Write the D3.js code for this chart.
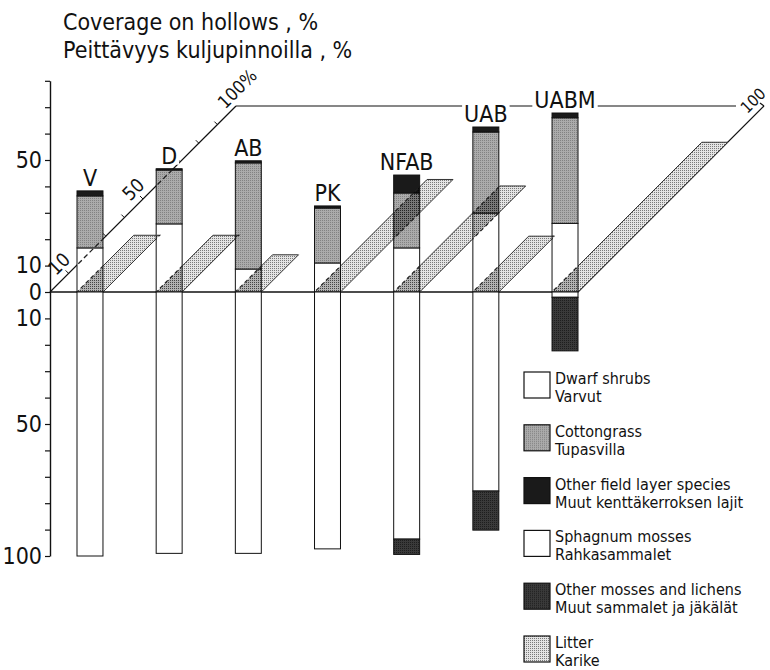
<!DOCTYPE html>
<html>
<head>
<meta charset="utf-8">
<script src="https://cdn.jsdelivr.net/npm/d3@7"></script>
<style>
body { margin: 0; background: #fff; }
text { font-family: "DejaVu Sans Condensed", "DejaVu Sans", sans-serif; font-stretch: condensed; fill: #111; }
</style>
</head>
<body>
<div id="chart"></div>
<script>
// values, % cover on hollows
var sites = ['V', 'D', 'AB', 'PK', 'NFAB', 'UAB', 'UABM'];
// field layer, drawn upwards
var dwarfShrubs = [16.7, 25.8, 8.7, 11, 16.7, 29.9, 26];
var cottongrass = [19.7, 20.4, 40.2, 20.8, 20.8, 30.7, 40];
var otherField  = [1.9, 0.5, 0.8, 0.8, 6.8, 1.9, 1.8];
// ground layer, drawn downwards
var sphagnum    = [100, 99, 99, 97.3, 93.6, 75.4, 2];
var otherMosses = [0, 0, 0, 0, 5.8, 14.8, 20.3];
// litter, drawn along the depth axis
var litter      = [30.5, 30.5, 20, 60.5, 57, 30, 80.5];

var upLabels = [0, 10, 50],
    downLabels = [10, 50, 100],
    depthLabels = [10, 50];

var legendItems = [
    ['Dwarf shrubs', 'Varvut', 'url(#pat-white)'],
    ['Cottongrass', 'Tupasvilla', 'url(#pat-cotton)'],
    ['Other field layer species', 'Muut kenttäkerroksen lajit', '#1a1a1a'],
    ['Sphagnum mosses', 'Rahkasammalet', 'url(#pat-white)'],
    ['Other mosses and lichens', 'Muut sammalet ja jäkälät', 'url(#pat-moss)'],
    ['Litter', 'Karike', 'url(#pat-litter)']
];

var width = 770, height = 670,
    axisX = 50;

var svg = d3.select('#chart').append('svg')
    .attr('width', width)
    .attr('height', height);

let x = d3.scaleBand().domain(sites).range([77, 578]).paddingInner(0.672).paddingOuter(0);
let y = d3.scaleLinear().domain([-100, 80]).range([556, 80.8]);
let depth = d3.scaleLinear().domain([0, 100]).range([0, 186]);
let bw = x.bandwidth(),
    y0 = y(0),
    xEnd = x(sites[sites.length - 1]) + bw;

// point on the floor: px along the baseline, d along the depth axis
function pt(px, d) { return [px + depth(d), y0 - depth(d)]; }

// stipple patterns
var defs = svg.append('defs');
function stipple(id, bg, dot) {
    var p = defs.append('pattern').attr('id', id)
	.attr('width', 2).attr('height', 2).attr('patternUnits', 'userSpaceOnUse');
    p.append('rect').attr('width', 2).attr('height', 2).attr('fill', bg);
    if (dot) p.append('rect').attr('width', 1).attr('height', 1).attr('fill', dot);
}
stipple('pat-white', '#fff', null);
stipple('pat-litter', '#e4e4e4', '#7a7a7a');
stipple('pat-cotton', '#ababab', '#828282');
stipple('pat-moss', '#3a3a3a', '#1e1e1e');
stipple('pat-over', 'rgba(0,0,0,0.3)', 'rgba(0,0,0,0.6)');

var data = sites.map((s, i) => {
    let a = dwarfShrubs[i], b = a + cottongrass[i], c = b + otherField[i];
    let e = sphagnum[i], f = e + otherMosses[i];
    return {
	site: s, litter: litter[i], top: c,
	up: [[0, a, 'url(#pat-white)'], [a, b, 'url(#pat-cotton)'], [b, c, '#1a1a1a']],
	down: [[0, e, 'url(#pat-white)'], [e, f, 'url(#pat-moss)']]
    };
});

function para(d) {
    let x1 = x(d.site), x2 = x1 + bw;
    return [[x1, y0], [x2, y0], pt(x2, d.litter), pt(x1, d.litter)];
}

// floor: baseline, depth axes and back edge
var floor = svg.append('g').attr('stroke', '#111').attr('fill', 'none');
floor.append('line').attr('x1', axisX).attr('x2', xEnd).attr('y1', y0).attr('y2', y0).attr('stroke-width', 1.4);
var diag = [pt(axisX, 0), pt(axisX, 100)];
floor.append('line').attr('x1', diag[0][0]).attr('y1', diag[0][1]).attr('x2', diag[1][0]).attr('y2', diag[1][1]).attr('stroke-width', 1.2);
floor.append('line')
    .attr('x1', pt(axisX, 100)[0]).attr('y1', pt(axisX, 100)[1])
    .attr('x2', pt(xEnd, 100)[0] - 28).attr('y2', pt(xEnd, 100)[1])
    .attr('stroke-width', 1.2);
floor.append('line')
    .attr('x1', pt(xEnd, 0)[0]).attr('y1', pt(xEnd, 0)[1])
    .attr('x2', pt(xEnd, 100)[0]).attr('y2', pt(xEnd, 100)[1])
    .attr('stroke-width', 1.2);
floor.append('line')
    .attr('x1', pt(xEnd, 100)[0]).attr('y1', pt(xEnd, 100)[1])
    .attr('x2', pt(xEnd, 100)[0] - 4).attr('y2', pt(xEnd, 100)[1] - 3)
    .attr('stroke-width', 1.2);
d3.range(10, 100, 10).forEach(function(t) {
    let p = pt(axisX, t);
    floor.append('line').attr('x1', p[0]).attr('y1', p[1])
	.attr('x2', p[0] - 3).attr('y2', p[1] - 3).attr('stroke-width', 1);
});

// litter parallelograms behind the bars
svg.append('g').selectAll('polygon').data(data).enter().append('polygon')
    .attr('points', (d) => para(d).join(' '))
    .attr('fill', 'url(#pat-litter)')
    .attr('stroke', '#333').attr('stroke-width', 1);

// field layer bars
var bars = svg.append('g').selectAll('g').data(data).enter().append('g');
bars.selectAll('rect').data((d) => d.up.map((u) => ({ site: d.site, s: u })))
    .enter().append('rect')
    .filter((d) => d.s[1] > d.s[0])
    .attr('x', (d) => x(d.site)).attr('width', bw)
    .attr('y', (d) => y(d.s[1])).attr('height', (d) => y(d.s[0]) - y(d.s[1]))
    .attr('fill', (d) => d.s[2])
    .attr('stroke', '#111').attr('stroke-width', 1);

// what lies behind the bars shows through, darker and dashed
var clip = defs.append('clipPath').attr('id', 'bar-clip');
clip.selectAll('rect').data(data).enter().append('rect')
    .attr('x', (d) => x(d.site)).attr('width', bw)
    .attr('y', (d) => y(d.top)).attr('height', (d) => y0 - y(d.top));
var hidden = svg.append('g').attr('clip-path', 'url(#bar-clip)');
hidden.selectAll('polygon').data(data).enter().append('polygon')
    .attr('points', (d) => para(d).join(' '))
    .attr('fill', 'url(#pat-over)')
    .attr('stroke', '#222').attr('stroke-width', 1.2).attr('stroke-dasharray', '4,3');
hidden.append('line').attr('x1', diag[0][0]).attr('y1', diag[0][1]).attr('x2', diag[1][0]).attr('y2', diag[1][1])
    .attr('stroke', '#222').attr('stroke-width', 1.3).attr('stroke-dasharray', '5,3');

// ground layer bars
bars.selectAll('rect.down').data((d) => d.down.map((u) => ({ site: d.site, s: u })))
    .enter().append('rect').attr('class', 'down')
    .filter((d) => d.s[1] > d.s[0])
    .attr('x', (d) => x(d.site)).attr('width', bw)
    .attr('y', (d) => y(-d.s[0])).attr('height', (d) => y(-d.s[1]) - y(-d.s[0]))
    .attr('fill', (d) => d.s[2])
    .attr('stroke', '#111').attr('stroke-width', 1);

// vertical axis
let yAxis = d3.axisLeft(y)
    .tickValues(d3.range(-100, 81, 10))
    .tickSize(5).tickSizeOuter(0).tickPadding(3)
    .tickFormat((v) => (upLabels.indexOf(v) >= 0 || downLabels.indexOf(-v) >= 0) ? Math.abs(v) : '');
var ax = svg.append('g').attr('transform', 'translate(' + axisX + ',0)').call(yAxis);
ax.select('.domain').attr('stroke', '#111').attr('stroke-width', 1.4);
ax.selectAll('.tick line').attr('stroke', '#111').attr('stroke-width', 1.2);
ax.selectAll('.tick text').attr('font-size', 23).attr('font-family', null).attr('fill', '#111');

// depth axis labels
function diagLabel(p, txt, along, off, size) {
    svg.append('text')
	.attr('transform', 'translate(' + p[0] + ',' + p[1] + ') rotate(-45)')
	.attr('x', along).attr('y', -off)
	.attr('text-anchor', 'middle')
	.attr('font-size', size)
	.text(txt);
}
depthLabels.forEach((t) => diagLabel(pt(axisX, t), t, 0, 7, 19));
diagLabel(pt(axisX, 100), '100%', 13, 5, 18);
diagLabel(pt(xEnd, 100), '100', -4, 6, 16);

// site labels above the bars, masking the back edge
data.forEach(function(d) {
    let by = y(d.top) - 5;
    let t = svg.append('text')
	.attr('x', x(d.site) + bw / 2).attr('y', by)
	.attr('text-anchor', 'middle').attr('font-size', 23)
	.text(d.site);
    let bb = t.node().getBBox();
    svg.insert('rect', function() { return t.node(); })
	.attr('x', bb.x - 2).attr('width', bb.width + 4)
	.attr('y', by - 18).attr('height', 19)
	.attr('fill', '#fff');
});

// title
svg.append('text').attr('x', 63).attr('y', 30).attr('font-size', 23).text('Coverage on hollows , %');
svg.append('text').attr('x', 63).attr('y', 58).attr('font-size', 23).text('Peittävyys kuljupinnoilla , %');

// legend
var lg = svg.append('g').attr('transform', 'translate(524,372)');
var li = lg.selectAll('g').data(legendItems).enter().append('g')
    .attr('transform', (d, i) => 'translate(0,' + (i * 52.8) + ')');
li.append('rect').attr('width', 26).attr('height', 26)
    .attr('fill', (d) => d[2]).attr('stroke', '#111').attr('stroke-width', 1.2);
li.append('text').attr('x', 31).attr('y', 12).attr('font-size', 16).text((d) => d[0]);
li.append('text').attr('x', 31).attr('y', 30).attr('font-size', 16).text((d) => d[1]);
</script>
</body>
</html>
